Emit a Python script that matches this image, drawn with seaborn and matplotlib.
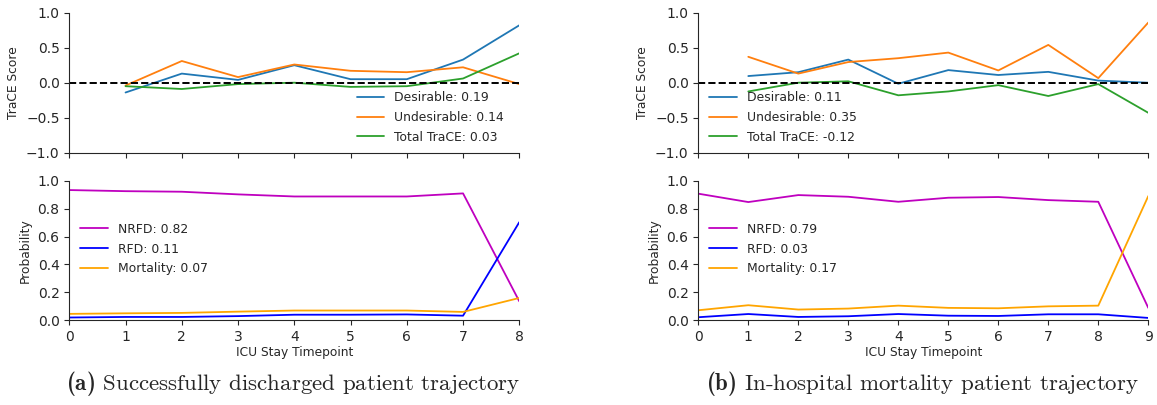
import numpy as np
import pandas as pd
import matplotlib
matplotlib.use("Agg")
import matplotlib.pyplot as plt
import seaborn as sns

# ---------------- data ----------------
# (a) successfully discharged patient
a_trace_t = [1, 2, 3, 4, 5, 6, 7, 8]
a_desirable = [-0.14, 0.13, 0.04, 0.25, 0.05, 0.05, 0.33, 0.82]
a_undesirable = [-0.04, 0.31, 0.08, 0.26, 0.17, 0.15, 0.22, -0.02]
a_total = [-0.05, -0.09, -0.02, 0.00, -0.06, -0.05, 0.06, 0.42]
a_trace_labels = ["Desirable: 0.19", "Undesirable: 0.14", "Total TraCE: 0.03"]

a_prob_t = [0, 1, 2, 3, 4, 5, 6, 7, 8]
a_nrfd = [0.933, 0.925, 0.921, 0.902, 0.887, 0.887, 0.887, 0.909, 0.136]
a_rfd = [0.020, 0.024, 0.024, 0.030, 0.040, 0.040, 0.042, 0.033, 0.703]
a_mort = [0.046, 0.050, 0.053, 0.062, 0.070, 0.070, 0.070, 0.060, 0.160]
a_prob_labels = ["NRFD: 0.82", "RFD: 0.11", "Mortality: 0.07"]

# (b) in-hospital mortality patient
b_trace_t = [1, 2, 3, 4, 5, 6, 7, 8, 9]
b_desirable = [0.095, 0.15, 0.33, -0.015, 0.18, 0.11, 0.155, 0.03, 0.00]
b_undesirable = [0.37, 0.13, 0.295, 0.35, 0.43, 0.175, 0.54, 0.065, 0.86]
b_total = [-0.125, 0.00, 0.02, -0.18, -0.125, -0.035, -0.19, -0.02, -0.43]
b_trace_labels = ["Desirable: 0.11", "Undesirable: 0.35", "Total TraCE: -0.12"]

b_prob_t = [0, 1, 2, 3, 4, 5, 6, 7, 8, 9]
b_nrfd = [0.907, 0.847, 0.897, 0.885, 0.849, 0.878, 0.883, 0.861, 0.849, 0.089]
b_rfd = [0.022, 0.045, 0.024, 0.029, 0.045, 0.033, 0.031, 0.043, 0.043, 0.017]
b_mort = [0.072, 0.108, 0.077, 0.084, 0.105, 0.089, 0.086, 0.100, 0.105, 0.890]
b_prob_labels = ["NRFD: 0.79", "RFD: 0.03", "Mortality: 0.17"]

captions = ["Successfully discharged patient trajectory",
            "In-hospital mortality patient trajectory"]
caption_tags = ["(a)", "(b)"]

# ---------------- style ----------------
sns.set_style("ticks")
plt.rcParams["font.family"] = ["DejaVu Sans"]
plt.rcParams["mathtext.fontset"] = "custom"
plt.rcParams["mathtext.rm"] = "cmr10"
plt.rcParams["mathtext.bf"] = "cmb10"
plt.rcParams["mathtext.it"] = "cmmi10"
TICK_FS = 10.0
LAB_FS = 8.8
LEG_FS = 8.9

fig = plt.figure(figsize=(11.57, 4.05), dpi=100)

W, H = 1157.0, 405.0
def ax_at(x0, x1, ytop, ybot):
    return fig.add_axes([x0 / W, 1 - ybot / H, (x1 - x0) / W, (ybot - ytop) / H])

trace_colors = ["#1f77b4", "#ff7f0e", "#2ca02c"]
prob_colors = ["m", "blue", "orange"]

panels = [
    dict(x0=69.3, x1=519.3, tt=a_trace_t, tr=[a_desirable, a_undesirable, a_total],
         tl=a_trace_labels, pt=a_prob_t, pr=[a_nrfd, a_rfd, a_mort], pl=a_prob_labels,
         tloc="lower right", tanchor=(0.99, -0.015), cx=293.5),
    dict(x0=698.3, x1=1148.3, tt=b_trace_t, tr=[b_desirable, b_undesirable, b_total],
         tl=b_trace_labels, pt=b_prob_t, pr=[b_nrfd, b_rfd, b_mort], pl=b_prob_labels,
         tloc="lower left", tanchor=(0.0, -0.015), cx=922.0),
]

for i, p in enumerate(panels):
    ax_t = ax_at(p["x0"], p["x1"], 12.7, 152.7)
    ax_b = ax_at(p["x0"], p["x1"], 180.7, 320.3)
    xmax = p["pt"][-1]

    for ys, lab, c in zip(p["tr"], p["tl"], trace_colors):
        sns.lineplot(x=p["tt"], y=ys, ax=ax_t, color=c, label=lab, linewidth=1.3)
    ax_t.axhline(0, color="black", linestyle="--", linewidth=1.4)
    ax_t.set_xlim(0, xmax)
    ax_t.set_ylim(-1.0, 1.0)
    ax_t.set_yticks([-1.0, -0.5, 0.0, 0.5, 1.0])
    ax_t.set_xticks(p["pt"])
    ax_t.set_xticklabels([])
    ax_t.set_ylabel("TraCE Score", fontsize=LAB_FS)
    ax_t.tick_params(labelsize=TICK_FS, length=3.5, width=0.8)
    ax_t.legend(loc=p["tloc"], bbox_to_anchor=p["tanchor"], frameon=False,
                fontsize=LEG_FS, handlelength=2.2, labelspacing=0.55)
    sns.despine(ax=ax_t)

    for ys, lab, c in zip(p["pr"], p["pl"], prob_colors):
        sns.lineplot(x=p["pt"], y=ys, ax=ax_b, color=c, label=lab, linewidth=1.3)
    ax_b.set_xlim(0, xmax)
    ax_b.set_ylim(0, 1.0)
    ax_b.set_yticks([0.0, 0.2, 0.4, 0.6, 0.8, 1.0])
    ax_b.set_xticks(p["pt"])
    ax_b.set_xlabel("ICU Stay Timepoint", fontsize=LAB_FS, labelpad=1.5)
    ax_b.set_ylabel("Probability", fontsize=LAB_FS)
    ax_b.tick_params(labelsize=TICK_FS, length=3.5, width=0.8)
    ax_b.legend(loc="center left", frameon=False, fontsize=LEG_FS,
                handlelength=2.2, labelspacing=0.55, bbox_to_anchor=(0.0, 0.51))
    sns.despine(ax=ax_b)

    for ax in (ax_t, ax_b):
        for s in ax.spines.values():
            s.set_linewidth(0.8)

    fig.text(p["cx"] / W, 1 - 384 / H,
             r"$\mathbf{" + caption_tags[i] + "}$ " + captions[i],
             ha="center", va="center", fontsize=16.5, family="cmr10")

fig.savefig("out.png", dpi=100)
